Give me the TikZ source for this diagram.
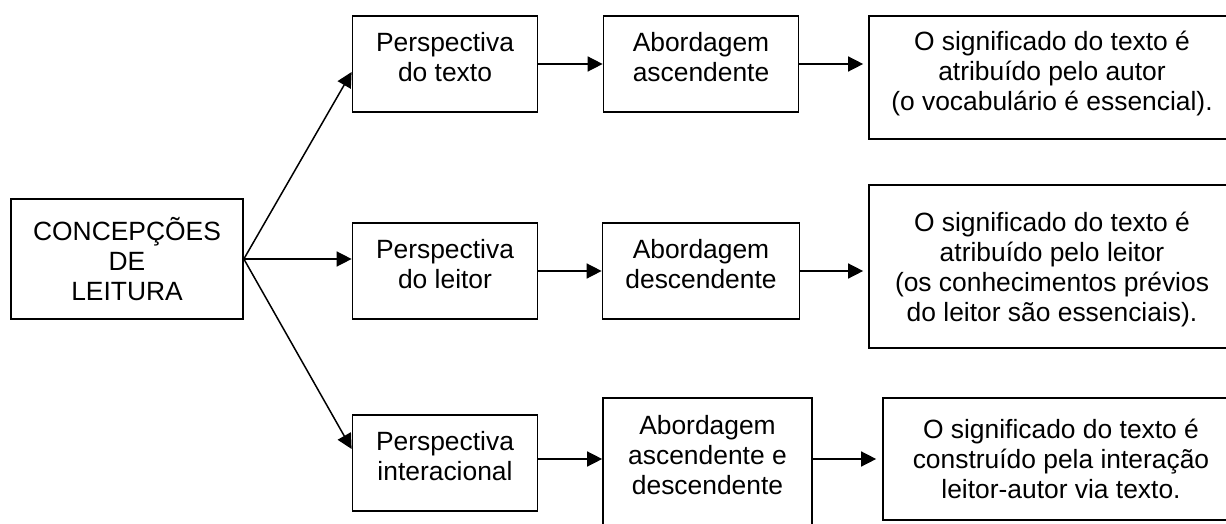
\documentclass[tikz,border=0pt]{standalone}
\usepackage{fontspec}
\setmainfont{Liberation Sans}
\usetikzlibrary{arrows.meta}
\tikzstyle{boxes} = [rectangle, minimum width=92.5pt, minimum height=48pt, align=center,
draw=black, line width=0.85pt, font=\fontsize{13.2}{15}\selectfont]
\tikzstyle{arrow} = [line width=0.75pt, -{Triangle[length=7.5pt, width=7.5pt]}]

\begin{document}
\begin{tikzpicture}[x=0.5pt, y=-0.5pt, node distance=128pt]

    \useasboundingbox (0,0) rectangle (1226,524);

    \node (conc) [boxes, minimum width=116pt, minimum height=60pt] at (127,259) {CONCEPÇÕES\\DE\\LEITURA};

    \node (ptexto) [boxes, right of=conc, xshift=31pt, yshift=97.5pt, text depth=7pt] {Perspectiva\\do texto};
    \node (pleitor) [boxes, right of=conc, xshift=31pt, yshift=-6pt, text depth=7pt] {Perspectiva\\do leitor};
    \node (pinter) [boxes, right of=conc, xshift=31pt, yshift=-102pt, text depth=7pt] {Perspectiva\\interacional};

    \node (asc) [boxes, right of=ptexto, minimum width=97.5pt, text depth=7pt] {Abordagem\\ascendente};
    \node (desc) [boxes, right of=pleitor, minimum width=98.5pt, text depth=7pt] {Abordagem\\descendente};
    \node (ascdesc) [boxes, right of=pinter, xshift=3.25pt, yshift=-1pt, minimum width=104.5pt, minimum height=67pt, text depth=10pt] {Abordagem\\ascendente e\\descendente};

    \node (sautor) [boxes, right of=asc, xshift=47.5pt, yshift=-6.75pt, minimum width=183pt, minimum height=61.5pt, text depth=7pt] {O significado do texto é\\atribuído pelo autor\\(o vocabulário é essencial).};
    \node (sleitor) [boxes, right of=desc, xshift=47.5pt, yshift=2.25pt, minimum width=183pt, minimum height=81.5pt, text depth=-2.5pt] {O significado do texto é\\atribuído pelo leitor\\(os conhecimentos prévios\\do leitor são essenciais).};
    \node (sinter) [boxes, right of=ascdesc, xshift=48.75pt, yshift=3pt, minimum width=178pt, minimum height=61pt] {O significado do texto é\\construído pela interação\\leitor-autor via texto.};

    \draw[arrow] (conc.east) -- ([yshift=-4pt]ptexto.west);
    \draw[arrow] (conc.east) -- (conc.east -| pleitor.west);
    \draw[arrow] (conc.east) -- ([yshift=7pt]pinter.west);

    \draw[arrow] (ptexto) -- (asc);
    \draw[arrow] (pleitor) -- (desc);
    \draw[arrow] ([yshift=2pt]pinter.east) -- ([yshift=2pt]pinter.east -| ascdesc.west);

    \draw[arrow, shorten >=2.5pt] (asc.east) -- (asc.east -| sautor.west);
    \draw[arrow, shorten >=2.5pt] (desc.east) -- (desc.east -| sleitor.west);
    \draw[arrow, shorten >=3pt] ([yshift=3pt]ascdesc.east) -- ([yshift=3pt]ascdesc.east -| sinter.west);

\end{tikzpicture}
\end{document}
